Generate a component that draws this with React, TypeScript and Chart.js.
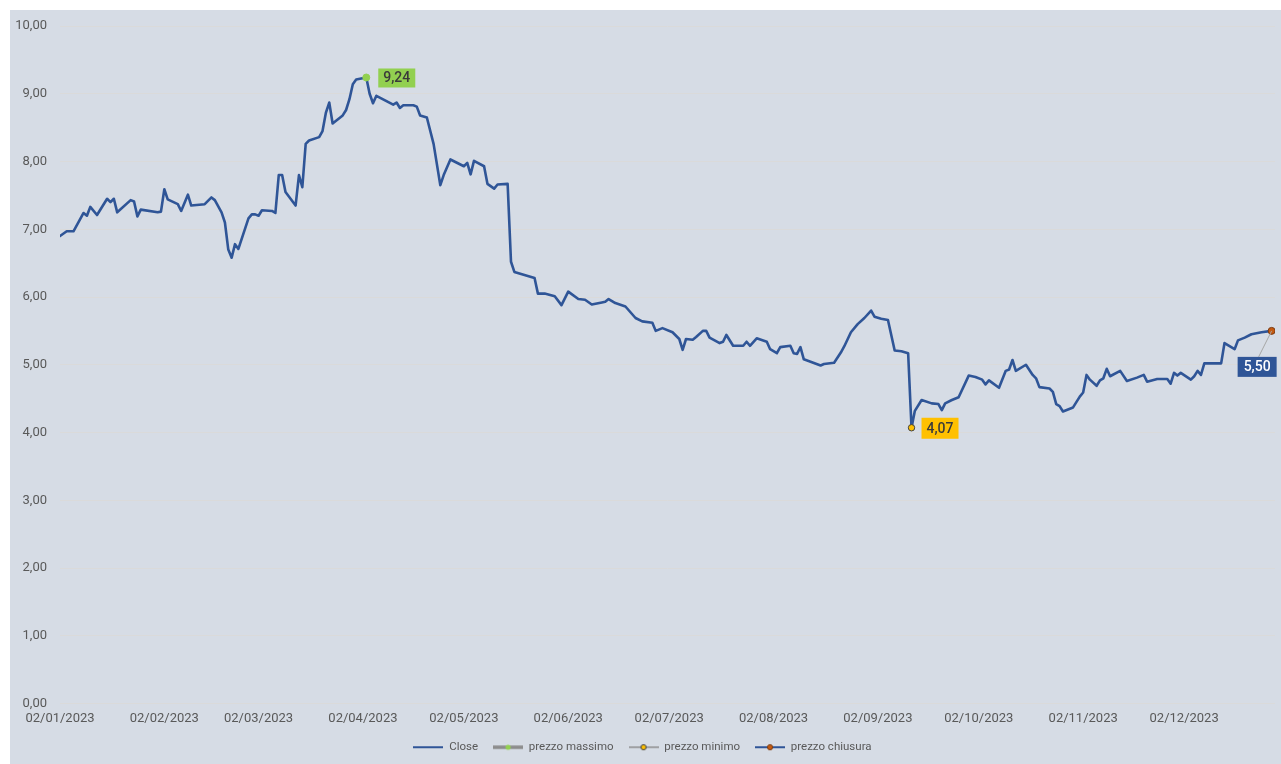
import React, { useEffect, useRef } from 'react';
import { Chart, registerables } from 'chart.js';

Chart.register(...registerables);

// ---- Data ----
const dates: string[] = [
  '2023-01-02', '2023-01-04', '2023-01-06', '2023-01-09', '2023-01-10', '2023-01-11', '2023-01-13', '2023-01-16',
  '2023-01-17', '2023-01-18', '2023-01-19', '2023-01-23', '2023-01-24', '2023-01-25', '2023-01-26', '2023-01-31',
  '2023-02-01', '2023-02-02', '2023-02-03', '2023-02-06', '2023-02-07', '2023-02-09', '2023-02-10', '2023-02-14',
  '2023-02-16', '2023-02-17', '2023-02-19', '2023-02-20', '2023-02-21', '2023-02-22', '2023-02-23', '2023-02-24',
  '2023-02-27', '2023-02-28', '2023-03-01', '2023-03-02', '2023-03-03', '2023-03-06', '2023-03-07', '2023-03-08',
  '2023-03-09', '2023-03-10', '2023-03-13', '2023-03-14', '2023-03-15', '2023-03-16', '2023-03-17', '2023-03-20',
  '2023-03-21', '2023-03-22', '2023-03-23', '2023-03-24', '2023-03-27', '2023-03-28', '2023-03-29', '2023-03-30',
  '2023-03-31', '2023-04-03', '2023-04-04', '2023-04-05', '2023-04-06', '2023-04-11', '2023-04-12', '2023-04-13',
  '2023-04-14', '2023-04-17', '2023-04-18', '2023-04-19', '2023-04-21', '2023-04-23', '2023-04-25', '2023-04-26',
  '2023-04-28', '2023-05-02', '2023-05-03', '2023-05-04', '2023-05-05', '2023-05-08', '2023-05-09', '2023-05-11',
  '2023-05-12', '2023-05-15', '2023-05-16', '2023-05-17', '2023-05-23', '2023-05-24', '2023-05-26', '2023-05-29',
  '2023-05-31', '2023-06-02', '2023-06-05', '2023-06-07', '2023-06-09', '2023-06-12', '2023-06-13', '2023-06-14',
  '2023-06-16', '2023-06-19', '2023-06-22', '2023-06-24', '2023-06-27', '2023-06-28', '2023-06-30', '2023-07-03',
  '2023-07-05', '2023-07-06', '2023-07-07', '2023-07-09', '2023-07-10', '2023-07-12', '2023-07-13', '2023-07-14',
  '2023-07-17', '2023-07-18', '2023-07-19', '2023-07-21', '2023-07-24', '2023-07-25', '2023-07-26', '2023-07-28',
  '2023-07-31', '2023-08-01', '2023-08-03', '2023-08-04', '2023-08-07', '2023-08-08', '2023-08-09', '2023-08-10',
  '2023-08-11', '2023-08-16', '2023-08-17', '2023-08-20', '2023-08-22', '2023-08-23', '2023-08-25', '2023-08-27',
  '2023-08-29', '2023-08-31', '2023-09-01', '2023-09-03', '2023-09-05', '2023-09-07', '2023-09-09', '2023-09-11',
  '2023-09-12', '2023-09-13', '2023-09-15', '2023-09-18', '2023-09-20', '2023-09-21', '2023-09-22', '2023-09-24',
  '2023-09-26', '2023-09-29', '2023-10-01', '2023-10-03', '2023-10-04', '2023-10-05', '2023-10-08', '2023-10-10',
  '2023-10-11', '2023-10-12', '2023-10-13', '2023-10-16', '2023-10-18', '2023-10-19', '2023-10-20', '2023-10-23',
  '2023-10-24', '2023-10-25', '2023-10-26', '2023-10-27', '2023-10-30', '2023-11-01', '2023-11-02', '2023-11-03',
  '2023-11-04', '2023-11-06', '2023-11-07', '2023-11-08', '2023-11-09', '2023-11-10', '2023-11-13', '2023-11-15',
  '2023-11-18', '2023-11-20', '2023-11-21', '2023-11-24', '2023-11-27', '2023-11-28', '2023-11-29', '2023-11-30',
  '2023-12-01', '2023-12-04', '2023-12-05', '2023-12-06', '2023-12-07', '2023-12-08', '2023-12-13', '2023-12-14',
  '2023-12-17', '2023-12-18', '2023-12-20', '2023-12-22', '2023-12-25', '2023-12-28',
];

const closeValues: number[] = [
  6.90, 6.97, 6.97, 7.24, 7.20, 7.33, 7.21, 7.45,
  7.40, 7.45, 7.25, 7.43, 7.41, 7.19, 7.29, 7.25,
  7.26, 7.59, 7.44, 7.37, 7.27, 7.51, 7.35, 7.37,
  7.47, 7.43, 7.25, 7.10, 6.70, 6.58, 6.78, 6.71,
  7.16, 7.22, 7.22, 7.20, 7.28, 7.27, 7.24, 7.80,
  7.80, 7.55, 7.35, 7.80, 7.62, 8.26, 8.31, 8.36,
  8.45, 8.72, 8.87, 8.56, 8.68, 8.76, 8.92, 9.14,
  9.21, 9.24, 9.00, 8.86, 8.97, 8.84, 8.87, 8.79,
  8.83, 8.83, 8.81, 8.68, 8.65, 8.26, 7.65, 7.80,
  8.03, 7.93, 7.98, 7.81, 8.01, 7.93, 7.67, 7.60,
  7.66, 7.67, 6.52, 6.37, 6.28, 6.05, 6.05, 6.01,
  5.88, 6.08, 5.97, 5.96, 5.89, 5.92, 5.93, 5.97,
  5.91, 5.86, 5.69, 5.64, 5.62, 5.50, 5.54, 5.48,
  5.38, 5.22, 5.38, 5.37, 5.41, 5.50, 5.50, 5.40,
  5.32, 5.34, 5.44, 5.28, 5.28, 5.34, 5.28, 5.39,
  5.34, 5.23, 5.17, 5.26, 5.28, 5.17, 5.16, 5.26,
  5.08, 4.99, 5.01, 5.03, 5.18, 5.27, 5.48, 5.60,
  5.69, 5.80, 5.71, 5.68, 5.66, 5.21, 5.20, 5.17,
  4.07, 4.32, 4.48, 4.43, 4.42, 4.33, 4.43, 4.48,
  4.52, 4.84, 4.82, 4.78, 4.71, 4.77, 4.66, 4.91,
  4.93, 5.07, 4.91, 5.00, 4.85, 4.80, 4.67, 4.65,
  4.60, 4.42, 4.39, 4.31, 4.37, 4.53, 4.59, 4.85,
  4.78, 4.69, 4.77, 4.80, 4.94, 4.83, 4.91, 4.76,
  4.81, 4.85, 4.75, 4.79, 4.79, 4.72, 4.88, 4.84,
  4.88, 4.78, 4.83, 4.91, 4.85, 5.02, 5.02, 5.32,
  5.23, 5.36, 5.40, 5.45, 5.48, 5.50,
];

const tickDates: string[] = [
  '2023-01-02', '2023-02-02', '2023-03-02', '2023-04-02', '2023-05-02', '2023-06-02',
  '2023-07-02', '2023-08-02', '2023-09-02', '2023-10-02', '2023-11-02', '2023-12-02',
];
const axisStartDate = '2023-01-02';
const axisEndDate = '2023-12-29';

const maxDate = '2023-04-03';
const maxValue = 9.24;
const minDate = '2023-09-12';
const minValue = 4.07;
const lastDate = '2023-12-28';
const lastValue = 5.5;

const seriesNames = ['Close', 'prezzo massimo', 'prezzo minimo', 'prezzo chiusura'];

const yMin = 0;
const yMax = 10;
const yStep = 1;

// ---- helpers ----
const DAY = 86400000;
const base = Date.parse(axisStartDate + 'T00:00:00Z');
const toDay = (s: string) => (Date.parse(s + 'T00:00:00Z') - base) / DAY;
const fmtNum = (v: number) => v.toFixed(2).replace('.', ',');
const pad2 = (n: number) => (n < 10 ? '0' + n : '' + n);
const fmtDate = (day: number) => {
  const d = new Date(base + Math.round(day) * DAY);
  return `${pad2(d.getUTCDate())}/${pad2(d.getUTCMonth() + 1)}/${d.getUTCFullYear()}`;
};

const BLUE = '#2F5597';
const GRAY = '#8C8C8C';
const GREEN = '#92D050';
const GOLD = '#FFC000';
const BROWN = '#C55A11';
const TEXT = '#595959';

function legendIcon(line: string, lw: number, fill?: string, stroke?: string) {
  const c = document.createElement('canvas');
  c.width = 30;
  c.height = 10;
  const g = c.getContext('2d')!;
  g.strokeStyle = line;
  g.lineWidth = lw;
  g.beginPath();
  g.moveTo(0, 5);
  g.lineTo(30, 5);
  g.stroke();
  if (fill) {
    g.beginPath();
    g.arc(15, 5, 2.6, 0, Math.PI * 2);
    g.fillStyle = fill;
    g.fill();
    if (stroke) {
      g.lineWidth = 1;
      g.strokeStyle = stroke;
      g.stroke();
    }
  }
  return c;
}

const labelPlugin = {
  id: 'extremeLabels',
  afterDatasetsDraw(chart: any) {
    const ctx: CanvasRenderingContext2D = chart.ctx;
    const specs = [
      { ds: 1, v: maxValue, dx: 12, dy: -9, w: 37, h: 19, bg: GREEN, fg: '#3A3A3A', leader: false },
      { ds: 2, v: minValue, dx: 10, dy: -10, w: 37, h: 21, bg: GOLD, fg: '#3A3A3A', leader: false },
      { ds: 3, v: lastValue, dx: -34, dy: 26, w: 39, h: 20, bg: BLUE, fg: '#FFFFFF', leader: true },
    ];
    ctx.save();
    for (const s of specs) {
      const el = chart.getDatasetMeta(s.ds).data[0];
      if (!el) continue;
      const px = el.x;
      const py = el.y;
      if (s.leader) {
        ctx.strokeStyle = '#A6A6A6';
        ctx.lineWidth = 1;
        ctx.beginPath();
        ctx.moveTo(px, py);
        ctx.lineTo(px - 13, py + s.dy);
        ctx.stroke();
      }
      ctx.fillStyle = s.bg;
      ctx.fillRect(px + s.dx, py + s.dy, s.w, s.h);
      ctx.fillStyle = s.fg;
      ctx.font = '500 14px Roboto';
      ctx.textAlign = 'center';
      ctx.textBaseline = 'middle';
      ctx.fillText(fmtNum(s.v), px + s.dx + s.w / 2, py + s.dy + s.h / 2 + 1);
    }
    ctx.restore();
  },
};

export default function App() {
  const ref = useRef<HTMLCanvasElement>(null);

  useEffect(() => {
    Chart.defaults.font.family = 'Roboto';
    const icons = [
      legendIcon(BLUE, 2),
      legendIcon(GRAY, 3.5, GREEN),
      legendIcon(GRAY, 1.5, GOLD, '#404040'),
      legendIcon(BLUE, 2, BROWN, '#7A3A10'),
    ];
    const closeData = dates.map((d, i) => ({ x: toDay(d), y: closeValues[i] }));

    const chart = new Chart(ref.current!, {
      type: 'line',
      data: {
        datasets: [
          {
            label: seriesNames[0],
            data: closeData,
            borderColor: BLUE,
            borderWidth: 2.6,
            borderJoinStyle: 'round',
            borderCapStyle: 'round',
            pointRadius: 0,
            tension: 0,
            order: 2,
          },
          {
            label: seriesNames[1],
            data: [{ x: toDay(maxDate), y: maxValue }],
            borderColor: GRAY,
            pointRadius: 3.5,
            pointBackgroundColor: GREEN,
            pointBorderColor: GREEN,
            order: 1,
          },
          {
            label: seriesNames[2],
            data: [{ x: toDay(minDate), y: minValue }],
            borderColor: GRAY,
            pointRadius: 3.2,
            pointBorderWidth: 1,
            pointBackgroundColor: GOLD,
            pointBorderColor: '#404040',
            order: 1,
          },
          {
            label: seriesNames[3],
            data: [{ x: toDay(lastDate), y: lastValue }],
            borderColor: BLUE,
            pointRadius: 3.5,
            pointBorderWidth: 1,
            pointBackgroundColor: BROWN,
            pointBorderColor: '#7A3A10',
            order: 1,
          },
        ],
      },
      options: {
        animation: false,
        responsive: true,
        maintainAspectRatio: false,
        layout: { padding: { left: 0, right: 6, top: 16, bottom: 1 } },
        events: [],
        scales: {
          x: {
            type: 'linear',
            min: 0,
            max: toDay(axisEndDate),
            grid: { display: false, drawTicks: false },
            border: { display: false },
            afterBuildTicks: (s: any) => {
              s.ticks = tickDates.map((d) => ({ value: toDay(d) }));
            },
            afterFit: (s: any) => {
              s.height = 23;
            },
            ticks: {
              autoSkip: false,
              maxRotation: 0,
              padding: 7,
              color: TEXT,
              font: { size: 13 },
              callback: (v: any) => fmtDate(Number(v)),
            },
          },
          y: {
            min: yMin,
            max: yMax,
            grid: { color: '#DADADA', lineWidth: 1, drawTicks: true, tickLength: 10, tickColor: 'rgba(0,0,0,0)' },
            border: { display: false },
            afterFit: (s: any) => {
              s.width = 50;
            },
            ticks: {
              stepSize: yStep,
              padding: 3,
              color: TEXT,
              font: { size: 13 },
              callback: (v: any) => fmtNum(Number(v)),
            },
          },
        },
        plugins: {
          tooltip: { enabled: false },
          legend: {
            position: 'bottom',
            labels: {
              usePointStyle: true,
              pointStyleWidth: 30,
              padding: 15,
              color: TEXT,
              font: { size: 11.5 },
              sort: (a: any, b: any) => a.datasetIndex - b.datasetIndex,
              generateLabels: (ch: any) => {
                const items = Chart.defaults.plugins.legend.labels.generateLabels(ch);
                return items.map((it: any) => ({ ...it, pointStyle: icons[it.datasetIndex] }));
              },
            },
          },
        },
      },
      plugins: [labelPlugin],
    } as any);

    return () => chart.destroy();
  }, []);

  return (
    <div
      style={{
        position: 'absolute',
        left: 10,
        top: 10,
        width: 1271,
        height: 754,
        background: '#D6DCE5',
      }}
    >
      <canvas ref={ref} />
    </div>
  );
}
